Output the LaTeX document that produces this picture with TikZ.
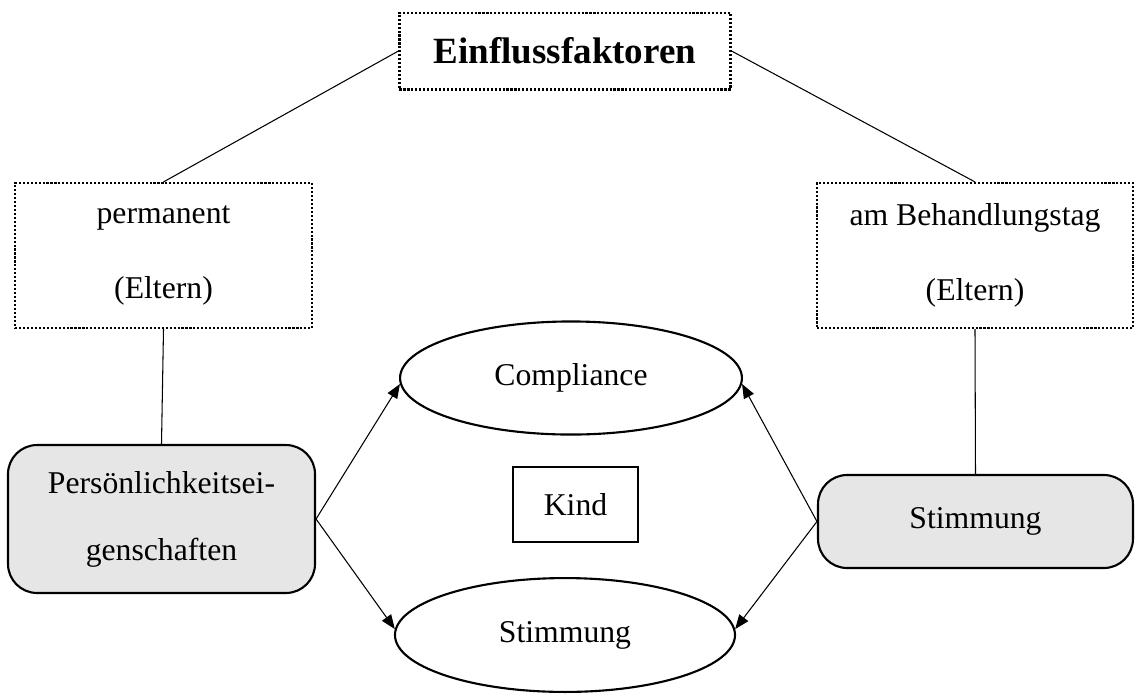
\documentclass[tikz,border=0pt]{standalone}
\usepackage{fontspec}
\setmainfont{Liberation Serif}
\usepackage{tikz}
\usetikzlibrary{shapes}
\usetikzlibrary{arrows.meta}
\definecolor{boxgrey}{RGB}{230,230,230}
\tikzset{
	dot node/.style={rectangle,draw,line width=0.8pt,dash pattern=on 0.8pt off 0.7pt,
		align=center,inner sep=0pt,font=\fontsize{12}{14.4}\selectfont},
	grey node/.style={rectangle,draw,rounded corners=11pt,fill=boxgrey,line width=0.8pt,
		align=center,inner sep=0pt,font=\fontsize{12}{14.4}\selectfont},
	main node/.style={ellipse,draw,line width=0.8pt,inner sep=0pt,font=\fontsize{12}{14.4}\selectfont},
	kind node/.style={rectangle,draw,line width=1pt,inner sep=0pt,font=\fontsize{12}{14.4}\selectfont}
}

\begin{document}
\begin{tikzpicture}[x=0.3785pt,y=-0.3785pt,>={Triangle[length=5.4pt,width=4.2pt]},line width=0.4pt]
	\useasboundingbox (0,0) rectangle (1135,693);
	\node [dot node,minimum width=125.3pt,minimum height=29.1pt,font=\fontsize{14}{16.8}\selectfont\bfseries] (1) at (565,51) {Einflussfaktoren};
	\node [dot node,minimum width=112.4pt,minimum height=54.9pt] (2) at (163.5,255.5) {permanent\\[14pt](Eltern)};
	\node [dot node,minimum width=119.6pt,minimum height=54.9pt] (3) at (975,255.5) {am Behandlungstag\\[14pt](Eltern)};
	\node [grey node,minimum width=116.2pt,minimum height=56pt] (4) at (161.5,519) {Persönlichkeitsei-\\[11pt]genschaften};
	\node [grey node,minimum width=119.2pt,minimum height=35.2pt] (5) at (975.5,521.5) {Stimmung};
	\node [main node,minimum width=129.4pt,minimum height=42.8pt] (6) at (571,378) {Compliance};
	\node [kind node,minimum width=47.3pt,minimum height=28.4pt] (7) at (575.5,504.5) {Kind};
	\node [main node,minimum width=128.7pt,minimum height=43.1pt] (8) at (565,635) {Stimmung};

	\draw (1.west) -- (2.north);
	\draw (1.east) -- (3.north);
	\draw (2.south) -- (4.north);
	\draw (3.south) -- (5.north);
	\draw [->] (4.east) -- (6.182);
	\draw [->] (4.east) -- (8.178);
	\draw [->] (5.west) -- (6.358);
	\draw [->] (5.west) -- (8.2);
\end{tikzpicture}
\end{document}
